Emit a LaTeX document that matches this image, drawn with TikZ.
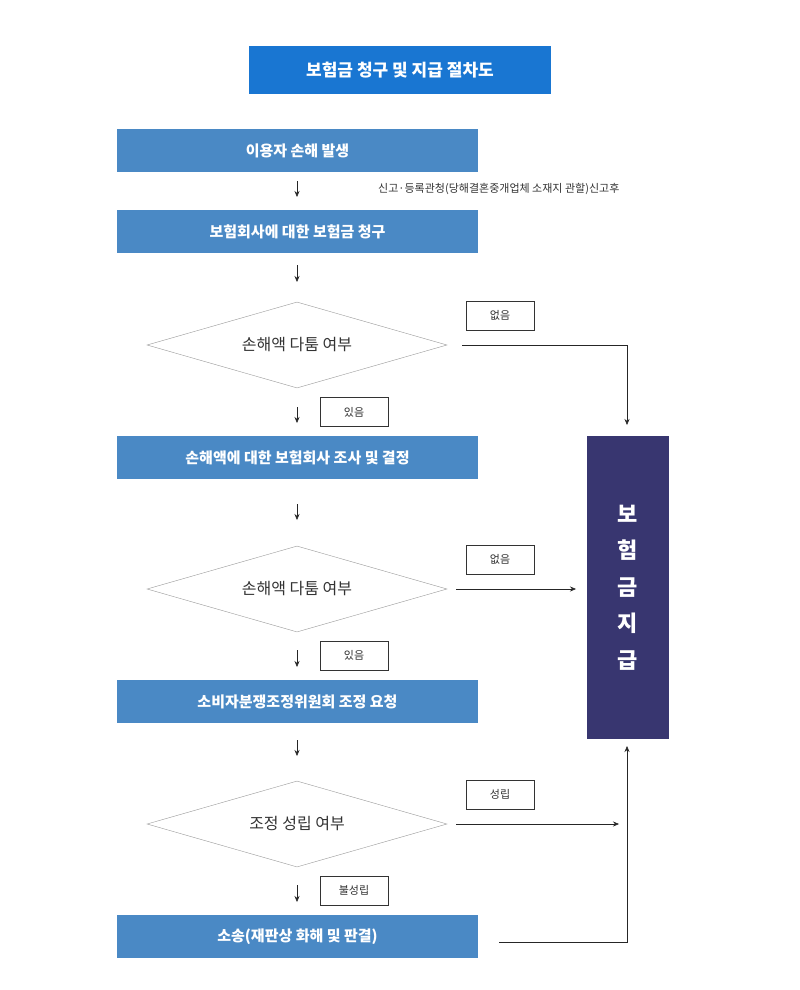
\documentclass[tikz,border=0pt]{standalone}
\usepackage{fontspec}
\setmainfont{Noto Sans CJK KR}
\usetikzlibrary{shapes.geometric,arrows.meta}
\definecolor{titleblue}{HTML}{1976D2}
\definecolor{boxblue}{HTML}{4A89C5}
\definecolor{navy}{HTML}{383670}
\definecolor{dgray}{HTML}{333333}
\begin{document}
\begin{tikzpicture}[x=1pt,y=-1pt,
  stepbox/.style={fill=boxblue,text=white,minimum width=361pt,minimum height=43pt,inner sep=0pt,font=\fontsize{15}{18}\selectfont\bfseries},
  dia/.style={diamond,draw=gray!80,aspect=3.5,minimum width=300pt,minimum height=86pt,inner sep=0pt,text=dgray,font=\fontsize{16}{19}\selectfont},
  lab/.style={draw=black!80,minimum width=68pt,minimum height=29pt,inner sep=0pt,text=dgray,font=\fontsize{11}{13}\selectfont},
  arr/.style={-{Stealth[length=6pt,width=5pt]},black!85,line width=0.6pt},
  ln/.style={black!85,line width=0.6pt}]
\useasboundingbox (0,0) rectangle (800,990);
\fill[white] (0,0) rectangle (800,990);
\node[fill=titleblue,text=white,minimum width=302pt,minimum height=48pt,inner sep=0pt,font=\fontsize{17}{20}\selectfont\bfseries] (title) at (400,70) {보험금 청구 및 지급 절차도};
\node[stepbox] (b1) at (297.5,150.5) {이용자 손해 발생};
\node[stepbox] (b2) at (297.5,231.5) {보험회사에 대한 보험금 청구};
\node[dia] (d1) at (297,345) {손해액 다툼 여부};
\node[stepbox] (b3) at (297.5,457.5) {손해액에 대한 보험회사 조사 및 결정};
\node[dia] (d2) at (297,589) {손해액 다툼 여부};
\node[stepbox] (b4) at (297.5,701.5) {소비자분쟁조정위원회 조정 요청};
\node[dia] (d3) at (297,824) {조정 성립 여부};
\node[stepbox] (b5) at (297.5,936.5) {소송(재판상 화해 및 판결)};
\node[fill=navy,text=white,minimum width=82pt,minimum height=303pt,inner sep=0pt,font=\fontsize{22}{36.5}\selectfont\bfseries,align=center] (pay) at (628,587.5) {보\\험\\금\\지\\급};
\node[text=dgray,font=\fontsize{11}{13}\selectfont,anchor=west,inner sep=0pt] (note) at (378,189) {신고·등록관청(당해결혼중개업체 소재지 관할)신고후};
\node[lab] (l1) at (500,315.5) {없음};
\node[lab] (l2) at (354,412) {있음};
\node[lab] (l3) at (500,559.5) {없음};
\node[lab] (l4) at (354,655.5) {있음};
\node[lab] (l5) at (500,794.5) {성립};
\node[lab] (l6) at (354,890.5) {불성립};
% arrows
\coordinate (a1s) at (297,181); \coordinate (a1e) at (297,197);
\coordinate (a2s) at (297,265); \coordinate (a2e) at (297,282);
\coordinate (a3s) at (297,407); \coordinate (a3e) at (297,423);
\coordinate (a4s) at (297,504); \coordinate (a4e) at (297,520);
\coordinate (a5s) at (297,650); \coordinate (a5e) at (297,667);
\coordinate (a6s) at (297,740); \coordinate (a6e) at (297,756);
\coordinate (a7s) at (297,885); \coordinate (a7e) at (297,902);
\foreach \i in {1,...,7}{\draw[arr] (a\i s) -- (a\i e);}
\coordinate (r1s) at (462,345); \coordinate (r1e) at (627,425);
\draw[arr] (r1s) -| (r1e);
\coordinate (r2s) at (456,589); \coordinate (r2e) at (576,589);
\draw[arr] (r2s) -- (r2e);
\coordinate (r3s) at (456,824); \coordinate (r3e) at (619,824);
\draw[arr] (r3s) -- (r3e);
\coordinate (r4s) at (499,942); \coordinate (r4e) at (627,746);
\draw[arr] (r4s) -| (r4e);
\end{tikzpicture}
\end{document}
